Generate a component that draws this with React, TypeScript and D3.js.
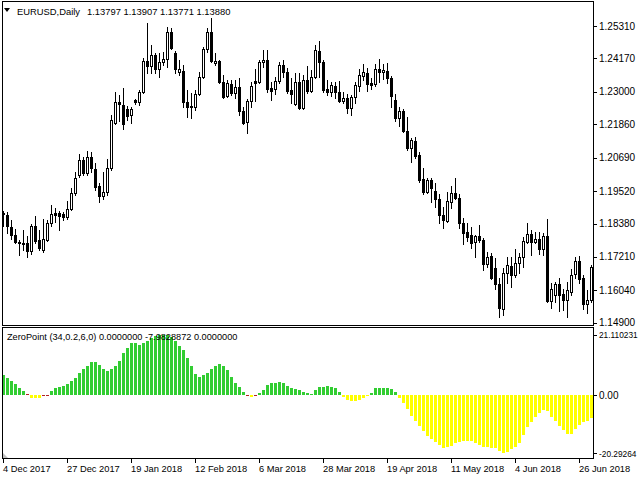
import React from 'react';
import * as d3 from 'd3';

// ---- EURUSD daily candles (Dec 2017 - Jun 2018) ----
const open = [
1.1871,1.1868,1.1826,1.1797,1.1773,1.1769,1.1769,1.1741,1.1829,1.1780,
1.1745,1.1780,1.1840,1.1875,1.1875,1.1871,1.1861,1.1889,1.1945,1.2008,
1.2061,1.2015,1.2071,1.2029,1.1969,1.1934,1.1948,1.2033,1.2191,1.2264,
1.2254,1.2240,1.2219,1.2271,1.2264,1.2299,1.2408,1.2391,1.2429,1.2380,
1.2405,1.2415,1.2510,1.2436,1.2370,1.2373,1.2264,1.2247,1.2247,1.2292,
1.2352,1.2450,1.2510,1.2401,1.2408,1.2335,1.2285,1.2328,1.2296,1.2317,
1.2233,1.2194,1.2268,1.2338,1.2335,1.2405,1.2412,1.2313,1.2310,1.2338,
1.2394,1.2370,1.2306,1.2257,1.2335,1.2243,1.2342,1.2303,1.2352,1.2443,
1.2405,1.2310,1.2299,1.2320,1.2299,1.2268,1.2278,1.2243,1.2282,1.2320,
1.2356,1.2366,1.2331,1.2328,1.2380,1.2370,1.2373,1.2349,1.2271,1.2208,
1.2233,1.2163,1.2103,1.2127,1.2078,1.1994,1.1948,1.1991,1.1952,1.1924,
1.1868,1.1847,1.1913,1.1945,1.1927,1.1840,1.1808,1.1797,1.1773,1.1794,
1.1780,1.1696,1.1724,1.1682,1.1626,1.1538,1.1664,1.1689,1.1657,1.1699,
1.1720,1.1773,1.1801,1.1773,1.1783,1.1748,1.1794,1.1566,1.1587,1.1626,
1.1590,1.1569,1.1597,1.1661,1.1706,1.1647,1.1555,1.1569];
const high = [
1.1882,1.1878,1.1850,1.1819,1.1780,1.1815,1.1794,1.1836,1.1864,1.1815,
1.1854,1.1850,1.1903,1.1892,1.1882,1.1878,1.1917,1.1962,1.2019,1.2082,
1.2071,1.2092,1.2089,1.2050,1.1980,1.2019,1.2064,1.2219,1.2299,1.2289,
1.2313,1.2250,1.2247,1.2275,1.2306,1.2419,1.2542,1.2464,1.2436,1.2436,
1.2440,1.2528,1.2524,1.2443,1.2412,1.2394,1.2306,1.2296,1.2306,1.2370,
1.2457,1.2524,1.2559,1.2436,1.2412,1.2359,1.2342,1.2342,1.2342,1.2349,
1.2247,1.2275,1.2335,1.2380,1.2412,1.2447,1.2447,1.2335,1.2352,1.2405,
1.2412,1.2384,1.2349,1.2366,1.2366,1.2359,1.2391,1.2377,1.2464,1.2478,
1.2412,1.2342,1.2335,1.2335,1.2338,1.2299,1.2292,1.2289,1.2335,1.2380,
1.2398,1.2384,1.2349,1.2398,1.2415,1.2398,1.2401,1.2356,1.2292,1.2247,
1.2240,1.2212,1.2138,1.2141,1.2089,1.2033,1.1998,1.1998,1.1980,1.1941,
1.1896,1.1948,1.1969,1.1998,1.1941,1.1857,1.1840,1.1826,1.1797,1.1833,
1.1787,1.1738,1.1734,1.1717,1.1647,1.1682,1.1720,1.1720,1.1748,1.1734,
1.1790,1.1840,1.1815,1.1808,1.1808,1.1805,1.1854,1.1629,1.1633,1.1647,
1.1608,1.1633,1.1678,1.1720,1.1724,1.1657,1.1604,1.1692];
const low = [
1.1829,1.1805,1.1783,1.1769,1.1727,1.1745,1.1720,1.1731,1.1769,1.1745,
1.1738,1.1776,1.1829,1.1843,1.1815,1.1850,1.1854,1.1885,1.1938,1.2001,
1.2008,1.2008,1.2019,1.1955,1.1913,1.1924,1.1938,1.2026,1.2187,1.2198,
1.2170,1.2201,1.2191,1.2257,1.2254,1.2296,1.2366,1.2366,1.2366,1.2352,
1.2394,1.2387,1.2450,1.2366,1.2359,1.2247,1.2212,1.2208,1.2236,1.2289,
1.2349,1.2440,1.2405,1.2394,1.2331,1.2278,1.2282,1.2289,1.2278,1.2219,
1.2187,1.2156,1.2247,1.2268,1.2331,1.2387,1.2299,1.2271,1.2292,1.2331,
1.2352,1.2296,1.2261,1.2254,1.2240,1.2240,1.2296,1.2299,1.2349,1.2352,
1.2299,1.2289,1.2285,1.2278,1.2264,1.2261,1.2226,1.2219,1.2261,1.2303,
1.2342,1.2303,1.2310,1.2320,1.2335,1.2345,1.2331,1.2247,1.2198,1.2180,
1.2159,1.2096,1.2054,1.2068,1.1984,1.1941,1.1945,1.1913,1.1896,1.1840,
1.1822,1.1843,1.1892,1.1924,1.1822,1.1766,1.1776,1.1752,1.1720,1.1773,
1.1675,1.1685,1.1643,1.1608,1.1510,1.1517,1.1629,1.1615,1.1650,1.1664,
1.1685,1.1769,1.1727,1.1769,1.1731,1.1727,1.1562,1.1541,1.1562,1.1531,
1.1534,1.1510,1.1587,1.1647,1.1629,1.1538,1.1524,1.1562];
const close = [
1.1875,1.1829,1.1797,1.1773,1.1769,1.1766,1.1741,1.1829,1.1776,1.1752,
1.1783,1.1840,1.1871,1.1868,1.1864,1.1861,1.1889,1.1945,1.1998,1.2061,
1.2015,1.2071,1.2033,1.1966,1.1934,1.1948,1.2033,1.2201,1.2264,1.2257,
1.2187,1.2215,1.2240,1.2264,1.2299,1.2408,1.2391,1.2429,1.2380,1.2405,
1.2415,1.2510,1.2454,1.2380,1.2380,1.2264,1.2247,1.2250,1.2292,1.2352,
1.2450,1.2510,1.2408,1.2408,1.2335,1.2282,1.2331,1.2296,1.2317,1.2233,
1.2191,1.2268,1.2320,1.2331,1.2405,1.2412,1.2310,1.2303,1.2338,1.2394,
1.2370,1.2303,1.2292,1.2335,1.2243,1.2342,1.2303,1.2352,1.2447,1.2405,
1.2306,1.2299,1.2324,1.2299,1.2268,1.2278,1.2243,1.2282,1.2324,1.2359,
1.2370,1.2328,1.2324,1.2380,1.2370,1.2377,1.2349,1.2285,1.2208,1.2233,
1.2163,1.2103,1.2131,1.2075,1.1991,1.1948,1.1991,1.1962,1.1924,1.1868,
1.1850,1.1917,1.1945,1.1927,1.1840,1.1805,1.1790,1.1769,1.1794,1.1780,
1.1696,1.1720,1.1647,1.1626,1.1541,1.1664,1.1692,1.1657,1.1699,1.1720,
1.1776,1.1801,1.1773,1.1783,1.1748,1.1794,1.1566,1.1608,1.1626,1.1587,
1.1569,1.1604,1.1657,1.1706,1.1643,1.1555,1.1569,1.1685];

// ---- ZeroPoint indicator histogram ----
const zeroPoint = [
7.1,5.9,5.0,3.85,2.7,1.6,0.5,-0.8,-0.8,-0.8,
-0.4,-0.4,1.6,2.4,2.8,3.4,4.0,4.9,6.1,7.7,
9.1,10.3,11.6,11.6,10.6,9.1,8.6,9.2,10.4,11.9,
14.7,16.5,18.2,18.2,17.6,18.2,19.0,20.2,20.9,21.05,
21.110231,21.05,20.5,19.1,17.4,15.9,13.2,10.4,7.5,6.3,
7.1,7.7,9.1,10.3,10.8,10.3,8.9,6.5,4.4,3.0,
1.3,-0.4,-0.5,-0.4,0.9,1.85,3.6,4.4,4.4,4.65,
4.2,3.4,2.55,2.3,1.85,1.15,0.9,0.55,1.85,3.0,
3.0,3.25,3.0,2.4,1.3,-0.7,-1.6,-2.0,-2.0,-1.6,
-0.8,-0.25,0.9,2.4,2.65,2.65,2.65,2.1,1.3,-0.8,
-2.6,-4.8,-7.1,-8.9,-10.7,-12.5,-14.1,-15.3,-16.2,-17.4,
-18.3,-18.0,-17.6,-16.8,-16.2,-16.0,-16.0,-15.9,-16.8,-17.4,
-18.2,-18.2,-18.3,-18.3,-19.4,-20.29264,-19.7,-18.9,-18.2,-16.6,
-13.9,-11.0,-9.2,-7.5,-6.3,-5.1,-5.4,-7.7,-9.0,-10.7,
-12.1,-13.5,-13.5,-11.9,-10.4,-9.2,-8.9,-7.9828872];
const zeroPointRedBars = [6, 10, 11, 61, 63];

// ---- axes ----
const priceTicks = [1.2531, 1.2417, 1.23, 1.2186, 1.2069, 1.1952, 1.1838, 1.1721, 1.1604, 1.149];
const priceTickLabels = ['1.25310', '1.24170', '1.23000', '1.21860', '1.20690', '1.19520', '1.18380', '1.17210', '1.16040', '1.14900'];
const zpTicks = [21.110231, 0, -20.29264];
const zpTickLabels = ['21.110231', '0.00', '-20.29264'];
const dateTickIndex = [0, 16, 32, 48, 64, 80, 96, 112, 128, 144];
const dateTickLabels = ['4 Dec 2017', '27 Dec 2017', '19 Jan 2018', '12 Feb 2018', '6 Mar 2018', '28 Mar 2018', '19 Apr 2018', '11 May 2018', '4 Jun 2018', '26 Jun 2018'];

const headerSymbol = 'EURUSD,Daily';
const headerPrices = '1.13797 1.13907 1.13771 1.13880';
const legendText = 'ZeroPoint (34,0.2,6,0) 0.0000000 -7.9828872 0.0000000';

const FONT = "'Liberation Sans', Arial, sans-serif";
const GREEN = '#32CD32';
const YELLOW = '#FFFF00';
const RED = '#B22222';

export default function App() {
  const n = open.length;
  const x = d3.scaleLinear().domain([0, n - 1]).range([3.5, 3.5 + 4 * (n - 1)]);
  const y = d3.scaleLinear().domain([1.149, 1.2531]).range([322.7, 26]);
  const yz = d3.scaleLinear().domain([-20.29264, 21.110231]).range([453.3, 335]);

  const left = 2.5, right = 593.5;
  const mainTop = 1.5, mainBottom = 325.5;
  const indTop = 327.5, indBottom = 458.5;
  const z0 = Math.round(yz(0));

  return (
    <svg width={640} height={480} style={{ position: 'absolute', left: 0, top: 0, background: '#fff' }}
      fontFamily={FONT} fontSize={10}>
      <rect x={0} y={0} width={640} height={480} fill="#fff" />
      <defs>
        <clipPath id="mainClip"><rect x={3} y={2} width={590} height={323} /></clipPath>
        <clipPath id="indClip"><rect x={3} y={328} width={590} height={130} /></clipPath>
      </defs>

      {/* candles */}
      <g clipPath="url(#mainClip)" shapeRendering="crispEdges">
        {open.map((o, i) => {
          const cx = x(i);
          const c = close[i];
          const yo = Math.round(y(o));
          const yc = Math.round(y(c));
          const yh = Math.round(y(high[i]));
          const yl = Math.round(y(low[i]));
          const top = Math.min(yo, yc);
          const bot = Math.max(yo, yc);
          const bull = c > o;
          const x0 = cx - 1, x1 = cx + 1;
          return (
            <g key={i}>
              <line x1={cx} x2={cx} y1={yh} y2={yl + 1} stroke="#000" strokeWidth={1} />
              <path d={`M${x0},${top + 0.5}H${x1}V${bot + 0.5}H${x0}Z`}
                fill={bull ? '#fff' : '#000'} stroke="#000" strokeWidth={1} />
            </g>
          );
        })}
      </g>

      {/* indicator histogram */}
      <g clipPath="url(#indClip)" shapeRendering="crispEdges">
        {zeroPoint.map((v, i) => {
          const yv = Math.round(yz(v));
          const top = Math.min(yv, z0);
          const h = Math.max(1, Math.abs(yv - z0));
          const col = zeroPointRedBars.includes(i) ? RED : v >= 0 ? GREEN : YELLOW;
          return <rect key={i} x={x(i) - 1.5} y={v >= 0 ? top : z0} width={3} height={h} fill={col} />;
        })}
      </g>

      {/* frames */}
      <g fill="none" stroke="#000" strokeWidth={1} shapeRendering="crispEdges">
        <rect x={left} y={mainTop} width={right - left} height={mainBottom - mainTop} />
        <rect x={left} y={indTop} width={right - left} height={indBottom - indTop} />
      </g>

      {/* header */}
      <path d="M4,8 L10,8 L7,12 Z" fill="#000" />
      <text x={17} y={15} fill="#000" fontSize={9.4}>{headerSymbol}</text>
      <text x={87} y={15} fill="#000" fontSize={9.4}>{headerPrices}</text>
      <text x={7} y={340} fill="#000" fontSize={9.2}>{legendText}</text>

      {/* price axis */}
      {priceTicks.map((p, i) => {
        const yy = y(p);
        return (
          <g key={i}>
            <line x1={593} x2={597} y1={Math.round(yy) + 0.5} y2={Math.round(yy) + 0.5} stroke="#000" shapeRendering="crispEdges" />
            <text x={599} y={yy + 3.6} fill="#000">{priceTickLabels[i]}</text>
          </g>
        );
      })}

      {/* indicator axis */}
      {zpTicks.map((v, i) => {
        const yy = yz(v);
        const label = zpTickLabels[i];
        const long = label.length > 6;
        return (
          <g key={i}>
            <line x1={593} x2={597} y1={Math.round(yy) + 0.5} y2={Math.round(yy) + 0.5} stroke="#000" shapeRendering="crispEdges" />
            <text x={599} y={yy + 3.4} fill="#000" fontSize={long ? 8.3 : 10}>{label}</text>
          </g>
        );
      })}

      {/* date axis */}
      {dateTickIndex.map((idx, i) => {
        const xx = x(idx);
        return (
          <g key={i}>
            <line x1={xx} x2={xx} y1={459} y2={463} stroke="#000" shapeRendering="crispEdges" />
            <text x={xx - 0.5} y={471.5} fill="#000" fontSize={9.3}>{dateTickLabels[i]}</text>
          </g>
        );
      })}

      {/* resize grip */}
      <path d="M3,458 L8,458 L3,453 Z" fill="#c0c0c0" />
    </svg>
  );
}
